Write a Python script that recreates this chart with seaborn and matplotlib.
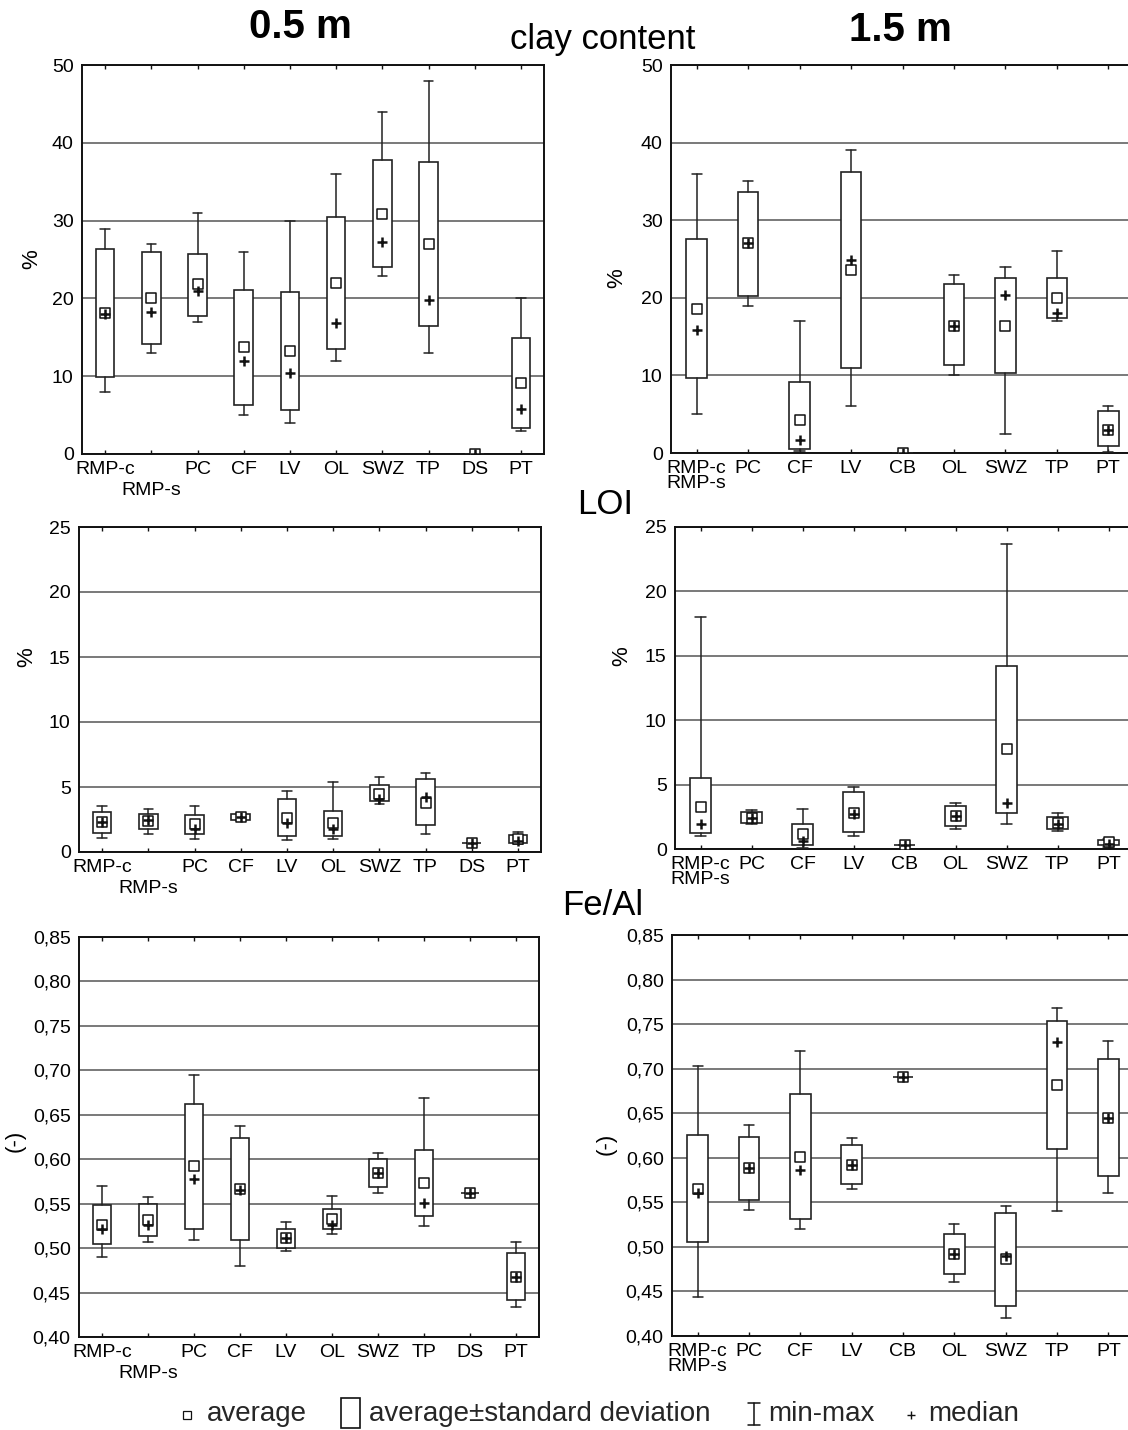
import numpy as np
import matplotlib
matplotlib.use("Agg")
import matplotlib.pyplot as plt
import seaborn as sns
from matplotlib.patches import Rectangle
from matplotlib.ticker import FuncFormatter

# ---------------- data ----------------
cats_05 = ["RMP-c", "RMP-s", "PC", "CF", "LV", "OL", "SWZ", "TP", "DS", "PT"]
cats_15 = ["RMP-c\nRMP-s", "PC", "CF", "LV", "CB", "OL", "SWZ", "TP", "PT"]

# clay content 0.5 m
clay05_mean = [18.1, 20.0, 21.8, 13.7, 13.2, 22.0, 30.9, 27.0, 0.0, 9.1]
clay05_med = [18.0, 18.3, 21.0, 11.9, 10.4, 16.8, 27.2, 19.8, 0.0, 5.8]
clay05_lo = [9.85, 14.1, 17.8, 6.3, 5.7, 13.5, 24.0, 16.5, 0.0, 3.4]
clay05_hi = [26.4, 25.9, 25.7, 21.1, 20.8, 30.4, 37.8, 37.5, 0.0, 14.9]
clay05_min = [8.0, 13.0, 17.0, 5.0, 4.0, 12.0, 22.9, 13.0, 0.0, 3.0]
clay05_max = [28.9, 27.0, 31.0, 26.0, 30.0, 36.0, 44.0, 48.0, 0.0, 20.0]

# clay content 1.5 m
clay15_mean = [18.6, 27.0, 4.2, 23.6, 0.0, 16.4, 16.4, 20.0, 3.0]
clay15_med = [15.9, 27.0, 1.7, 24.9, 0.0, 16.4, 20.4, 18.0, 3.0]
clay15_lo = [9.7, 20.2, 0.5, 10.9, 0.0, 11.3, 10.3, 17.4, 0.86]
clay15_hi = [27.55, 33.6, 9.1, 36.2, 0.0, 21.8, 22.6, 22.6, 5.4]
clay15_min = [5.0, 19.0, 0.2, 6.0, 0.0, 10.0, 2.4, 17.0, 0.1]
clay15_max = [36.0, 35.0, 17.0, 39.0, 0.0, 23.0, 24.0, 26.0, 6.1]

# LOI 0.5 m
loi05_mean = [2.3, 2.36, 2.13, 2.7, 2.6, 2.24, 4.5, 3.8, 0.7, 1.03]
loi05_med = [2.3, 2.5, 1.8, 2.7, 2.2, 1.75, 4.1, 4.24, 0.7, 0.82]
loi05_lo = [1.44, 1.75, 1.36, 2.5, 1.26, 1.2, 3.9, 2.06, 0.7, 0.67]
loi05_hi = [3.1, 2.9, 2.88, 2.9, 4.06, 3.16, 5.19, 5.6, 0.7, 1.34]
loi05_min = [1.1, 1.39, 1.0, 2.5, 0.95, 0.98, 3.73, 1.36, 0.7, 0.64]
loi05_max = [3.57, 3.34, 3.52, 2.9, 4.73, 5.4, 5.78, 6.04, 0.7, 1.54]

# LOI 1.5 m
loi15_mean = [3.23, 2.4, 1.16, 2.79, 0.34, 2.56, 7.75, 2.0, 0.52]
loi15_med = [1.96, 2.4, 0.65, 2.69, 0.3, 2.56, 3.54, 1.96, 0.39]
loi15_lo = [1.27, 2.04, 0.28, 1.32, 0.3, 1.8, 2.76, 1.55, 0.28]
loi15_hi = [5.5, 2.84, 1.96, 4.44, 0.3, 3.3, 14.2, 2.48, 0.67]
loi15_min = [1.03, 1.96, 0.08, 1.03, 0.3, 1.58, 1.96, 1.37, 0.15]
loi15_max = [18.0, 3.0, 3.1, 4.78, 0.3, 3.56, 23.66, 2.79, 0.77]

# Fe/Al 0.5 m
feal05_mean = [0.526, 0.532, 0.592, 0.566, 0.511, 0.533, 0.584, 0.573, 0.562, 0.467]
feal05_med = [0.522, 0.526, 0.578, 0.565, 0.511, 0.526, 0.584, 0.551, 0.562, 0.467]
feal05_lo = [0.505, 0.514, 0.522, 0.509, 0.500, 0.521, 0.569, 0.536, 0.562, 0.442]
feal05_hi = [0.549, 0.550, 0.662, 0.624, 0.522, 0.544, 0.600, 0.610, 0.562, 0.495]
feal05_min = [0.490, 0.507, 0.509, 0.480, 0.497, 0.516, 0.562, 0.525, 0.562, 0.434]
feal05_max = [0.570, 0.558, 0.695, 0.637, 0.529, 0.559, 0.607, 0.669, 0.562, 0.507]

# Fe/Al 1.5 m
feal15_mean = [0.565, 0.588, 0.601, 0.592, 0.691, 0.492, 0.486, 0.682, 0.645]
feal15_med = [0.561, 0.588, 0.586, 0.592, 0.691, 0.492, 0.490, 0.730, 0.645]
feal15_lo = [0.505, 0.553, 0.531, 0.571, 0.691, 0.470, 0.434, 0.610, 0.579]
feal15_hi = [0.626, 0.623, 0.672, 0.614, 0.691, 0.514, 0.538, 0.754, 0.711]
feal15_min = [0.444, 0.541, 0.520, 0.565, 0.691, 0.461, 0.420, 0.540, 0.561]
feal15_max = [0.703, 0.637, 0.720, 0.622, 0.691, 0.526, 0.546, 0.768, 0.731]

# ---------------- style ----------------
sns.set_theme(style="white")
plt.rcParams["font.family"] = ["Liberation Sans", "DejaVu Sans"]
plt.rcParams["axes.edgecolor"] = "#111111"

W, H = 1128, 1430
fig = plt.figure(figsize=(W / 100, H / 100), dpi=100)
fig.patch.set_facecolor("white")


def rect(L, R, T, B):
    return [L / W, (H - B) / H, (R - L) / W, (B - T) / H]


def comma_fmt(v, p):
    return f"{v:.2f}".replace(".", ",")


def int_fmt(v, p):
    return f"{v:.0f}"


def panel(box, labels, lo, hi, mn, mx, avg, med, ylim, step, ylabel,
          fmt, ylab_xy, stagger=False):
    ax = fig.add_axes(box)
    pos = np.arange(len(labels))
    stats = [dict(med=a, q1=l, q3=h, whislo=a1, whishi=b1, fliers=[])
             for a, l, h, a1, b1 in zip(avg, lo, hi, mn, mx)]
    ax.bxp(stats, positions=pos, widths=0.4, patch_artist=True,
           showfliers=False, manage_ticks=False,
           boxprops=dict(facecolor="white", edgecolor="#222222", linewidth=1.2),
           whiskerprops=dict(color="#222222", linewidth=1.1),
           capprops=dict(color="#222222", linewidth=1.1),
           medianprops=dict(linewidth=0), zorder=3)
    sns.scatterplot(x=pos, y=avg, marker="s", s=44, color="white",
                    edgecolor="#111111", linewidth=1.1, ax=ax, zorder=4,
                    legend=False)
    sns.scatterplot(x=pos, y=med, marker="+", s=52, color="#111111",
                    linewidth=1.8, ax=ax, zorder=5, legend=False)
    ax.set_xlim(-0.5, len(labels) - 0.5)
    ax.set_ylim(*ylim)
    ax.set_yticks(np.arange(ylim[0], ylim[1] + step / 2, step))
    ax.yaxis.set_major_formatter(FuncFormatter(fmt))
    ax.set_xticks(pos)
    ax.set_xticklabels(labels)
    for t in ax.get_xticklabels():
        t.set_multialignment("left")
        t.set_linespacing(0.85)
    ax.tick_params(axis="x", direction="in", length=3, width=1, top=True,
                   bottom=True, labelsize=14, pad=5, colors="#111111",
                   labelcolor="black")
    ax.tick_params(axis="y", length=0, labelsize=14, pad=6,
                   labelcolor="black")
    if stagger:
        ax.xaxis.get_major_ticks()[1].set_pad(20)
    ax.yaxis.grid(True, color="#555555", linewidth=1.1)
    ax.xaxis.grid(False)
    ax.set_axisbelow(True)
    for sp in ax.spines.values():
        sp.set_linewidth(1.4)
        sp.set_color("#111111")
    ax.set_xlabel("")
    ax.set_ylabel(ylabel, fontsize=16, color="black")
    ax.yaxis.set_label_coords(*ylab_xy)
    return ax


panel(rect(82, 544, 65, 454), cats_05, clay05_lo, clay05_hi, clay05_min,
      clay05_max, clay05_mean, clay05_med, (0, 50), 10, "%", int_fmt,
      (-0.087, 0.5), stagger=True)
panel(rect(671, 1134, 65, 453), cats_15, clay15_lo, clay15_hi, clay15_min,
      clay15_max, clay15_mean, clay15_med, (0, 50), 10, "%", int_fmt,
      (-0.095, 0.45))
panel(rect(79, 541, 527, 852), cats_05, loi05_lo, loi05_hi, loi05_min,
      loi05_max, loi05_mean, loi05_med, (0, 25), 5, "%", int_fmt,
      (-0.091, 0.6), stagger=True)
panel(rect(675, 1134, 527, 849), cats_15, loi15_lo, loi15_hi, loi15_min,
      loi15_max, loi15_mean, loi15_med, (0, 25), 5, "%", int_fmt,
      (-0.094, 0.6))
panel(rect(79, 539, 937, 1337), cats_05, feal05_lo, feal05_hi, feal05_min,
      feal05_max, feal05_mean, feal05_med, (0.40, 0.85), 0.05, "(-)",
      comma_fmt, (-0.115, 0.49), stagger=True)
panel(rect(672, 1134, 935, 1336), cats_15, feal15_lo, feal15_hi, feal15_min,
      feal15_max, feal15_mean, feal15_med, (0.40, 0.85), 0.05, "(-)",
      comma_fmt, (-0.119, 0.48))

# ---------------- headings ----------------
def ftext(x, y, s, **kw):
    fig.text(x / W, 1 - y / H, s, ha="center", va="center", color="black", **kw)


ftext(300, 27, "0.5 m", fontsize=29, fontweight="bold")
ftext(900, 30, "1.5 m", fontsize=29, fontweight="bold")
ftext(603, 40, "clay content", fontsize=25)
ftext(605, 505, "LOI", fontsize=25)
ftext(603, 905, "Fe/Al", fontsize=25)

# ---------------- legend ----------------
lg = fig.add_axes([0, 0, 1, 44 / H])
lg.set_xlim(0, W)
lg.set_ylim(0, 44)
lg.axis("off")
lg.plot([187], [15], marker="s", ms=5.5, mfc="white", mec="#111111", mew=0.9)
lg.text(207, 16, "average", fontsize=20, va="center", ha="left")
lg.add_patch(Rectangle((341, 2), 19, 30, fill=False, ec="#111111", lw=1.2))
lg.text(369, 16, "average\u00b1standard deviation", fontsize=20,
        va="center", ha="left")
lg.plot([754, 754], [5, 27], color="#111111", lw=1.1)
lg.plot([748, 760], [5, 5], color="#111111", lw=1.1)
lg.plot([748, 760], [27, 27], color="#111111", lw=1.1)
lg.text(768, 16, "min-max", fontsize=20, va="center", ha="left")
lg.plot([911], [15], marker="+", ms=6, color="#111111", mew=1.0)
lg.text(928, 16, "median", fontsize=20, va="center", ha="left")

fig.savefig("out.png", dpi=100, facecolor="white")
